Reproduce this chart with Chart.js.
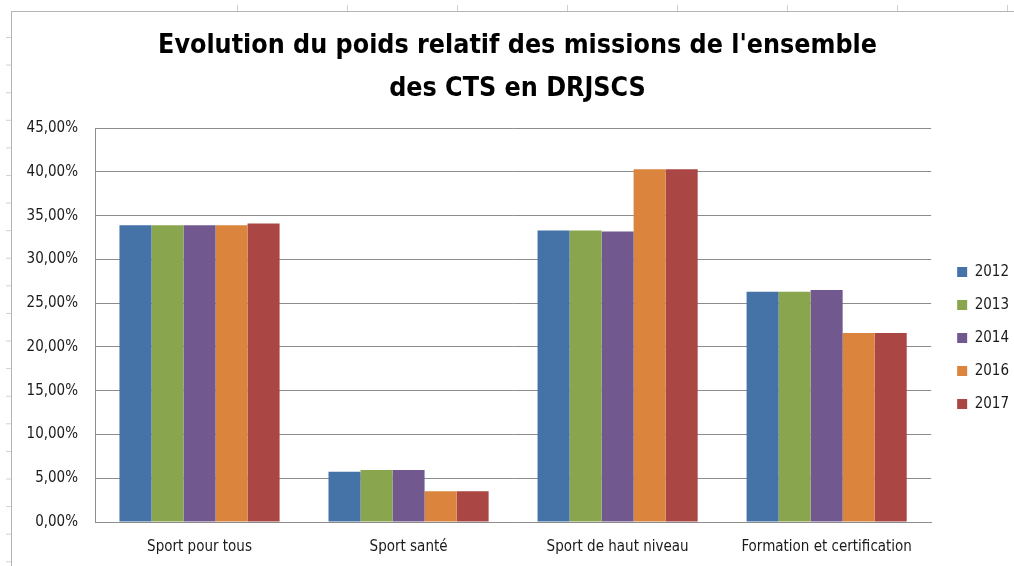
<!DOCTYPE html>
<html>
<head>
<meta charset="utf-8">
<script src="https://cdn.jsdelivr.net/npm/chart.js@4"></script>
<style>
	body { margin: 0; background: #fff; }
	.cols {
		position: absolute; left: 237px; top: 5px; width: 777px; height: 6px;
		background-image: linear-gradient(90deg, #d0d0d0 1px, transparent 1px);
		background-size: 110px 6px;
	}
	.rows {
		position: absolute; left: 6px; top: 37px; width: 5px; height: 529px;
		background-image: linear-gradient(180deg, #d0d0d0 1px, transparent 1px);
		background-size: 5px 27.6px;
	}
	.frame {
		position: absolute; left: 11px; top: 11px; width: 1003px; height: 555px;
		border-left: 1px solid #b4b4b4; border-top: 1px solid #b4b4b4;
		background: #fff;
	}
	canvas { position: absolute; left: 0; top: 0; }
</style>
</head>
<body>
<div class="cols"></div>
<div class="rows"></div>
<div class="frame"></div>
<canvas id="chart" width="1014" height="566"></canvas>
<script>
const categories = ['Sport pour tous', 'Sport santé', 'Sport de haut niveau', 'Formation et certification']
const years = ['2012', '2013', '2014', '2016', '2017']
const values2012 = [33.9, 5.75, 33.3, 26.3]
const values2013 = [33.9, 5.95, 33.3, 26.3]
const values2014 = [33.9, 5.95, 33.2, 26.5]
const values2016 = [33.9, 3.5, 40.3, 21.6]
const values2017 = [34.1, 3.5, 40.3, 21.6]
const colors = ['#4572A7', '#89A54E', '#71588F', '#DB843D', '#AA4643']

const series = [values2012, values2013, values2014, values2016, values2017]
const font = "'Liberation Sans Narrow', 'DejaVu Sans Condensed', 'Liberation Sans', sans-serif"

// recale la legende et le titre comme dans Excel
const boxShift = {
	id: 'boxShift',
	afterLayout(chart) {
		chart.legend.top += 13
		chart.legend.bottom += 13
		chart.legend.left += 8
		chart.legend.right += 8
		chart.titleBlock.left += 7
		chart.titleBlock.right += 7
	}
}

new Chart(document.getElementById('chart').getContext('2d'), {
	type: 'bar',
	data: {
		labels: categories,
		datasets: series.map((data, i) => ({
			label: years[i],
			data: data,
			backgroundColor: colors[i],
			borderWidth: 0,
			categoryPercentage: 0.766,
			barPercentage: 1,
		})),
	},
	options: {
		responsive: false,
		animation: false,
		layout: { padding: { left: 10, top: 25, right: 3, bottom: 0 } },
		plugins: {
			title: {
				display: true,
				text: ["Evolution du poids relatif des missions de l'ensemble", 'des CTS en DRJSCS'],
				font: { family: font, size: 26.6, weight: 'bold', lineHeight: 1.6 },
				color: '#000',
				padding: { top: 0, bottom: 18 },
			},
			legend: {
				position: 'right',
				fullSize: false,
				labels: {
					boxWidth: 10,
					boxHeight: 10,
					padding: 18,
					color: '#1a1a1a',
					font: { family: font, size: 15 },
				},
			},
			tooltip: { enabled: false },
		},
		scales: {
			x: {
				grid: { display: false, drawTicks: false },
				border: { color: '#8c8c8c', width: 1 },
				ticks: { color: '#1a1a1a', padding: 16, font: { family: font, size: 15 } },
				afterFit(scale) { scale.height = 44 },
			},
			y: {
				min: 0,
				max: 45,
				grid: { color: '#8c8c8c', drawTicks: false },
				border: { color: '#8c8c8c', width: 1 },
				ticks: {
					stepSize: 5,
					padding: 17,
					color: '#1a1a1a',
					font: { family: font, size: 15 },
					callback: v => v.toFixed(2).replace('.', ',') + '%',
				},
				afterFit(scale) { scale.width = 85 },
			},
		},
	},
	plugins: [boxShift],
})
</script>
</body>
</html>
